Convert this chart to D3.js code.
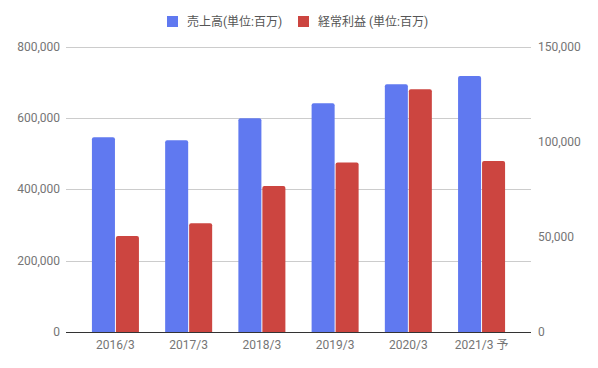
<!DOCTYPE html>
<html>
<head>
<meta charset="utf-8">
<script src="https://cdn.jsdelivr.net/npm/d3@7"></script>
<style>
  body { margin: 0; background: #fff; }
  text { font-family: Roboto, "Noto Sans CJK JP", sans-serif; }
</style>
</head>
<body>
<div id="chart-area"></div>
<script>
const years = ["2016/3", "2017/3", "2018/3", "2019/3", "2020/3", "2021/3 予"];
const sales = [546000, 537000, 599000, 641000, 694000, 717000];
const profit = [50400, 57100, 76700, 89100, 127500, 89800];
const leftTicks = [0, 200000, 400000, 600000, 800000];
const rightTicks = [0, 50000, 100000, 150000];
const seriesNames = ["売上高(単位:百万)", "経常利益 (単位:百万)"];
const colors = ["#6079f0", "#cc4540"];

const width = 598, height = 368;
const plot = { left: 66, right: 531, top: 46.5, bottom: 332 };

const svg = d3.select("#chart-area")
  .append("svg")
  .attr("width", width)
  .attr("height", height);

const x = d3.scaleBand()
  .domain(years)
  .range([plot.left, plot.right])
  .paddingInner(0.358)
  .paddingOuter(0.354);

const x1 = d3.scaleBand()
  .domain([0, 1])
  .range([0, x.bandwidth()])
  .paddingInner(0.04);

const yL = d3.scaleLinear().domain([0, 800000]).range([plot.bottom, plot.top]);
const yR = d3.scaleLinear().domain([0, 150000]).range([plot.bottom, plot.top]);

// gridlines
svg.append("g")
  .selectAll("line")
  .data(leftTicks.slice(1))
  .enter()
  .append("line")
  .attr("x1", plot.left).attr("x2", plot.right)
  .attr("y1", d => Math.round(yL(d)) + 0.5)
  .attr("y2", d => Math.round(yL(d)) + 0.5)
  .attr("stroke", "#cccccc");

// left axis labels
svg.append("g")
  .selectAll("text")
  .data(leftTicks)
  .enter()
  .append("text")
  .attr("x", 60)
  .attr("y", d => yL(d) + 4)
  .attr("text-anchor", "end")
  .attr("font-size", "12px")
  .attr("fill", "#757575")
  .text(d3.format(","));

// right axis labels
svg.append("g")
  .selectAll("text")
  .data(rightTicks)
  .enter()
  .append("text")
  .attr("x", 538)
  .attr("y", d => yR(d) + 4)
  .attr("text-anchor", "start")
  .attr("font-size", "12px")
  .attr("fill", "#757575")
  .text(d3.format(","));

function barPath(x0, w, y0, y1, r) {
  return `M${x0},${y1}V${y0 + r}Q${x0},${y0} ${x0 + r},${y0}H${x0 + w - r}Q${x0 + w},${y0} ${x0 + w},${y0 + r}V${y1}Z`;
}

const groups = svg.append("g")
  .selectAll("g")
  .data(years.map((d, i) => ({ year: d, vals: [yL(sales[i]), yR(profit[i])] })))
  .enter()
  .append("g")
  .attr("transform", d => `translate(${x(d.year)},0)`);

groups.selectAll("path")
  .data(d => d.vals)
  .enter()
  .append("path")
  .attr("d", (d, i) => barPath(x1(i), x1.bandwidth(), d, plot.bottom, 2))
  .attr("fill", (d, i) => colors[i]);

// baseline
svg.append("line")
  .attr("x1", plot.left).attr("x2", plot.right)
  .attr("y1", plot.bottom + 0.5).attr("y2", plot.bottom + 0.5)
  .attr("stroke", "#333333");

// x labels
svg.append("g")
  .selectAll("text")
  .data(years)
  .enter()
  .append("text")
  .attr("x", d => x(d) + x.bandwidth() / 2)
  .attr("y", 349)
  .attr("text-anchor", "middle")
  .attr("font-size", "12px")
  .attr("fill", "#757575")
  .text(d => d);

// legend
const legendX = [167, 298];
const legend = svg.append("g")
  .selectAll("g")
  .data(seriesNames)
  .enter()
  .append("g")
  .attr("transform", (d, i) => `translate(${legendX[i]},16)`);

legend.append("rect")
  .attr("width", 11).attr("height", 11)
  .attr("fill", (d, i) => colors[i]);

legend.append("text")
  .attr("x", 20)
  .attr("y", 10)
  .attr("font-size", "12px")
  .attr("fill", "#555555")
  .text(d => d);
</script>
</body>
</html>
